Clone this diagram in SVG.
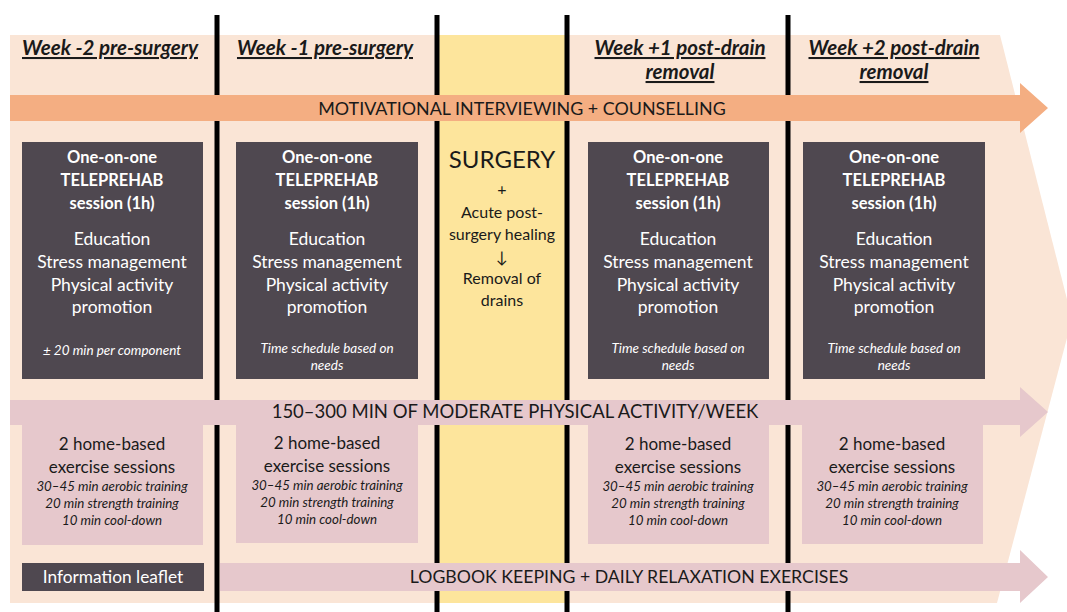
<svg xmlns="http://www.w3.org/2000/svg" width="1067" height="612" viewBox="0 0 1067 612">
<style>
text{font-family:Lato,"Open Sans","Liberation Sans",sans-serif;text-anchor:middle;fill:#1a1a1a}
.hd{font-size:20.5px;font-weight:bold;font-style:italic;text-decoration:underline}
.dark{fill:#4f4850}
.pink{fill:#e6c8cc}
.w{fill:#ffffff}
.b{font-size:16.5px;font-weight:bold}
.m{font-size:17.5px}
.s{font-size:13.5px;font-style:italic}
.ex{font-size:17px}
.ei{font-size:13.3px;font-style:italic}
.vl{stroke:#000;stroke-width:5}
</style>
<g id="background">
<polygon points="10,35 1000,35 1072,319 997,603 10,603" fill="#fae5d6"/>
<rect x="439" y="35" width="127" height="568" fill="#fde59c"/>
</g>
<g id="dividers">
<line class="vl" x1="217" y1="15" x2="217" y2="612"/>
<line class="vl" x1="437" y1="15" x2="437" y2="612"/>
<line class="vl" x1="567" y1="15" x2="567" y2="612"/>
<line class="vl" x1="788" y1="15" x2="788" y2="612"/>
</g>
<g id="headers">
<text class="hd" x="110" y="55">Week -2 pre-surgery</text>
<text class="hd" x="325" y="55">Week -1 pre-surgery</text>
<text class="hd" x="680" y="55">Week +1 post-drain</text>
<text class="hd" x="680" y="79">removal</text>
<text class="hd" x="894" y="55">Week +2 post-drain</text>
<text class="hd" x="894" y="79">removal</text>
</g>
<g id="connectors">
<polygon id="arrow-mi" points="10,95 1020,95 1020,83 1048,108 1020,133 1020,121 10,121" fill="#f4ae82"/>
<polygon id="arrow-pa" points="10,400 1020,400 1020,387 1048,412 1020,437 1020,425 10,425" class="pink"/>
<polygon id="arrow-log" points="220,563 1020,563 1020,550 1048,577 1020,603 1020,591 220,591" class="pink"/>
</g>
<g id="bar-labels">
<text x="522" y="115" style="font-size:17.9px">MOTIVATIONAL INTERVIEWING + COUNSELLING</text>
<text x="515" y="418" style="font-size:18.5px">150–300 MIN OF MODERATE PHYSICAL ACTIVITY/WEEK</text>
<text x="629" y="583" style="font-size:17.7px">LOGBOOK KEEPING + DAILY RELAXATION EXERCISES</text>
</g>
<g id="session-1">
<rect class="dark" x="22" y="142" width="181" height="237"/>
<text class="b w" x="112" y="163">One-on-one</text>
<text class="b w" x="112" y="186">TELEPREHAB</text>
<text class="b w" x="112" y="209">session (1h)</text>
<text class="m w" x="112" y="245">Education</text>
<text class="m w" x="112" y="268">Stress management</text>
<text class="m w" x="112" y="291">Physical activity</text>
<text class="m w" x="112" y="313">promotion</text>
<text class="s w" x="112" y="355">± 20 min per component</text>
</g>
<g id="session-2">
<rect class="dark" x="236" y="142" width="182" height="237"/>
<text class="b w" x="327" y="163">One-on-one</text>
<text class="b w" x="327" y="186">TELEPREHAB</text>
<text class="b w" x="327" y="209">session (1h)</text>
<text class="m w" x="327" y="245">Education</text>
<text class="m w" x="327" y="268">Stress management</text>
<text class="m w" x="327" y="291">Physical activity</text>
<text class="m w" x="327" y="313">promotion</text>
<text class="s w" x="327" y="353">Time schedule based on</text>
<text class="s w" x="327" y="370">needs</text>
</g>
<g id="surgery">
<text x="502" y="168" style="font-size:24px">SURGERY</text>
<text x="502" y="195" style="font-size:16px">+</text>
<text x="502" y="218" style="font-size:16px">Acute post-</text>
<text x="502" y="240" style="font-size:16px">surgery healing</text>
<text x="502" y="263" style="font-size:16px">↓</text>
<text x="502" y="284" style="font-size:16px">Removal of</text>
<text x="502" y="306" style="font-size:16px">drains</text>
</g>
<g id="session-3">
<rect class="dark" x="588" y="142" width="181" height="237"/>
<text class="b w" x="678" y="163">One-on-one</text>
<text class="b w" x="678" y="186">TELEPREHAB</text>
<text class="b w" x="678" y="209">session (1h)</text>
<text class="m w" x="678" y="245">Education</text>
<text class="m w" x="678" y="268">Stress management</text>
<text class="m w" x="678" y="291">Physical activity</text>
<text class="m w" x="678" y="313">promotion</text>
<text class="s w" x="678" y="353">Time schedule based on</text>
<text class="s w" x="678" y="370">needs</text>
</g>
<g id="session-4">
<rect class="dark" x="803" y="142" width="182" height="237"/>
<text class="b w" x="894" y="163">One-on-one</text>
<text class="b w" x="894" y="186">TELEPREHAB</text>
<text class="b w" x="894" y="209">session (1h)</text>
<text class="m w" x="894" y="245">Education</text>
<text class="m w" x="894" y="268">Stress management</text>
<text class="m w" x="894" y="291">Physical activity</text>
<text class="m w" x="894" y="313">promotion</text>
<text class="s w" x="894" y="353">Time schedule based on</text>
<text class="s w" x="894" y="370">needs</text>
</g>
<g id="exercise-1">
<rect class="pink" x="22" y="424" width="181" height="121"/>
<text class="ex" x="112" y="450">2 home-based</text>
<text class="ex" x="112" y="473">exercise sessions</text>
<text class="ei" x="112" y="491">30–45 min aerobic training</text>
<text class="ei" x="112" y="508">20 min strength training</text>
<text class="ei" x="112" y="525">10 min cool-down</text>
</g>
<g id="exercise-2">
<rect class="pink" x="236" y="424" width="182" height="119"/>
<text class="ex" x="327" y="449">2 home-based</text>
<text class="ex" x="327" y="472">exercise sessions</text>
<text class="ei" x="327" y="490">30–45 min aerobic training</text>
<text class="ei" x="327" y="507">20 min strength training</text>
<text class="ei" x="327" y="524">10 min cool-down</text>
</g>
<g id="exercise-3">
<rect class="pink" x="588" y="424" width="181" height="120"/>
<text class="ex" x="678" y="450">2 home-based</text>
<text class="ex" x="678" y="473">exercise sessions</text>
<text class="ei" x="678" y="491">30–45 min aerobic training</text>
<text class="ei" x="678" y="508">20 min strength training</text>
<text class="ei" x="678" y="525">10 min cool-down</text>
</g>
<g id="exercise-4">
<rect class="pink" x="802" y="424" width="181" height="120"/>
<text class="ex" x="892" y="450">2 home-based</text>
<text class="ex" x="892" y="473">exercise sessions</text>
<text class="ei" x="892" y="491">30–45 min aerobic training</text>
<text class="ei" x="892" y="508">20 min strength training</text>
<text class="ei" x="892" y="525">10 min cool-down</text>
</g>
<g id="leaflet">
<rect class="dark" x="22" y="563" width="182" height="28"/>
<text class="w" x="113" y="583" style="font-size:17.3px">Information leaflet</text>
</g>
</svg>
